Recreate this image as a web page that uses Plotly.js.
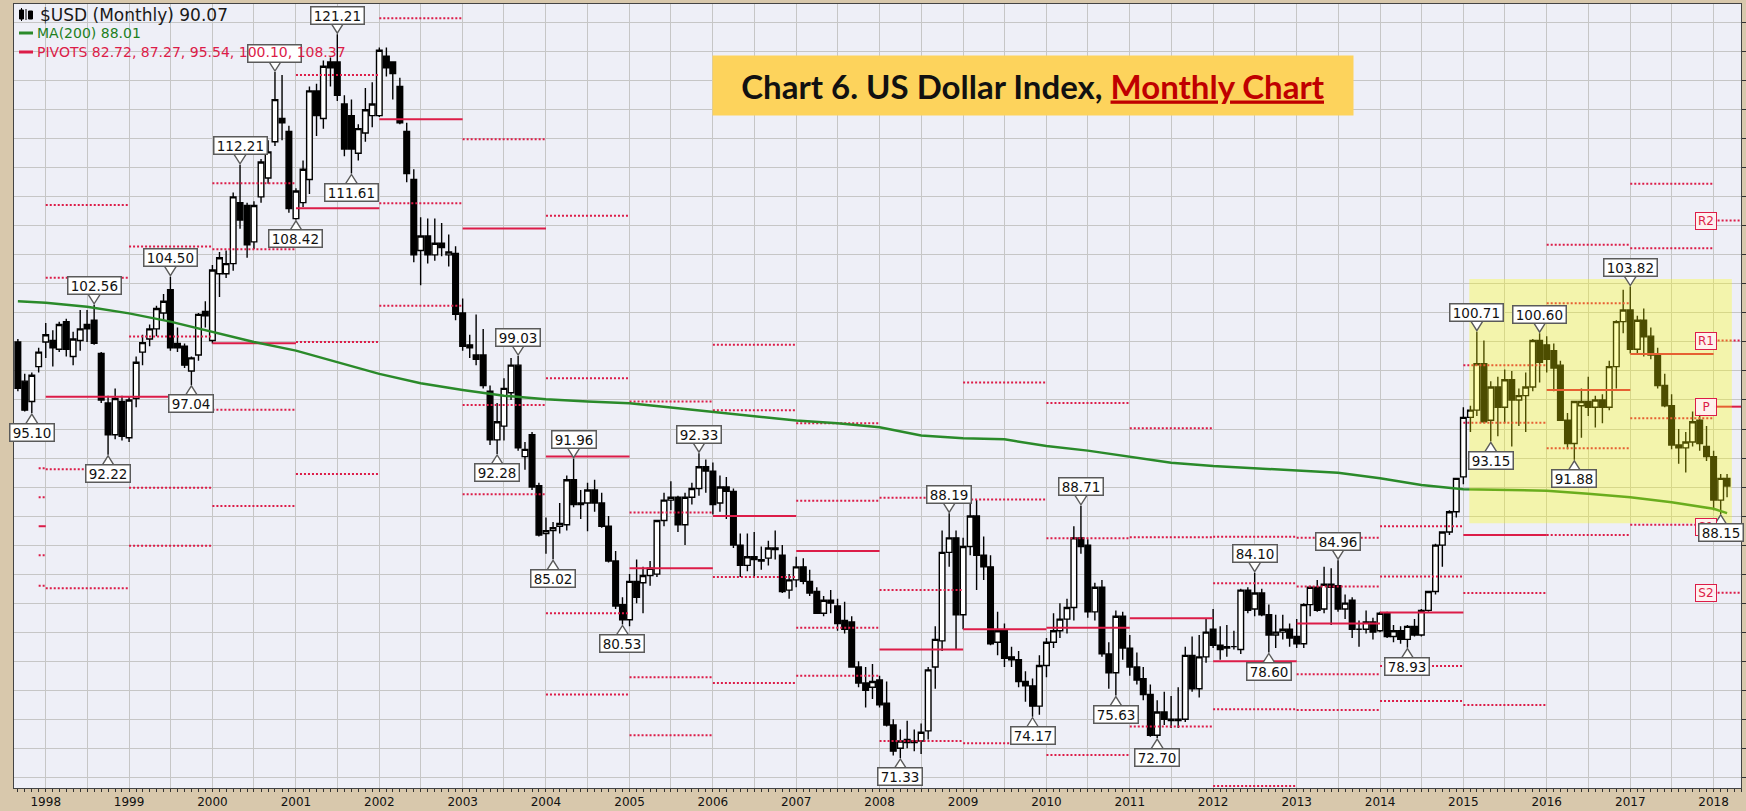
<!DOCTYPE html>
<html><head><meta charset="utf-8">
<script src="https://cdn.plot.ly/plotly-3.0.1.min.js"></script>
<style>html,body{margin:0;padding:0;background:#D8C8AC;}#chart{width:1746px;height:811px;}</style>
</head><body><div id="chart"></div>
<script>
// ---------------- DATA ----------------
const months = [
'1997-09','1997-10','1997-11','1997-12',
'1998-01','1998-02','1998-03','1998-04','1998-05','1998-06','1998-07','1998-08','1998-09','1998-10','1998-11','1998-12',
'1999-01','1999-02','1999-03','1999-04','1999-05','1999-06','1999-07','1999-08','1999-09','1999-10','1999-11','1999-12',
'2000-01','2000-02','2000-03','2000-04','2000-05','2000-06','2000-07','2000-08','2000-09','2000-10','2000-11','2000-12',
'2001-01','2001-02','2001-03','2001-04','2001-05','2001-06','2001-07','2001-08','2001-09','2001-10','2001-11','2001-12',
'2002-01','2002-02','2002-03','2002-04','2002-05','2002-06','2002-07','2002-08','2002-09','2002-10','2002-11','2002-12',
'2003-01','2003-02','2003-03','2003-04','2003-05','2003-06','2003-07','2003-08','2003-09','2003-10','2003-11','2003-12',
'2004-01','2004-02','2004-03','2004-04','2004-05','2004-06','2004-07','2004-08','2004-09','2004-10','2004-11','2004-12',
'2005-01','2005-02','2005-03','2005-04','2005-05','2005-06','2005-07','2005-08','2005-09','2005-10','2005-11','2005-12',
'2006-01','2006-02','2006-03','2006-04','2006-05','2006-06','2006-07','2006-08','2006-09','2006-10','2006-11','2006-12',
'2007-01','2007-02','2007-03','2007-04','2007-05','2007-06','2007-07','2007-08','2007-09','2007-10','2007-11','2007-12',
'2008-01','2008-02','2008-03','2008-04','2008-05','2008-06','2008-07','2008-08','2008-09','2008-10','2008-11','2008-12',
'2009-01','2009-02','2009-03','2009-04','2009-05','2009-06','2009-07','2009-08','2009-09','2009-10','2009-11','2009-12',
'2010-01','2010-02','2010-03','2010-04','2010-05','2010-06','2010-07','2010-08','2010-09','2010-10','2010-11','2010-12',
'2011-01','2011-02','2011-03','2011-04','2011-05','2011-06','2011-07','2011-08','2011-09','2011-10','2011-11','2011-12',
'2012-01','2012-02','2012-03','2012-04','2012-05','2012-06','2012-07','2012-08','2012-09','2012-10','2012-11','2012-12',
'2013-01','2013-02','2013-03','2013-04','2013-05','2013-06','2013-07','2013-08','2013-09','2013-10','2013-11','2013-12',
'2014-01','2014-02','2014-03','2014-04','2014-05','2014-06','2014-07','2014-08','2014-09','2014-10','2014-11','2014-12',
'2015-01','2015-02','2015-03','2015-04','2015-05','2015-06','2015-07','2015-08','2015-09','2015-10','2015-11','2015-12',
'2016-01','2016-02','2016-03','2016-04','2016-05','2016-06','2016-07','2016-08','2016-09','2016-10','2016-11','2016-12',
'2017-01','2017-02','2017-03','2017-04','2017-05','2017-06','2017-07','2017-08','2017-09','2017-10','2017-11','2017-12',
'2018-01','2018-02','2018-03'];

const open = [
100.0,97.3,95.9,98.3,
100.0,100.1,99.5,101.4,99.0,100.1,101.2,101.5,99.2,95.8,93.6,95.9,
93.4,96.1,99.3,100.2,100.9,102.0,103.6,99.9,99.7,98.0,99.1,102.1,
100.1,104.7,104.7,105.4,109.6,109.4,106.9,110.0,111.3,113.8,115.4,114.5,
108.5,109.6,111.2,117.3,115.4,119.3,119.3,116.4,115.6,113.0,114.4,115.6,
115.6,119.7,119.3,117.6,114.5,111.2,106.3,107.3,106.0,106.8,106.0,106.1,
102.0,99.8,99.1,99.1,96.6,93.25,94.2,96.5,98.4,92.1,93.6,90.1,
86.8,87.0,87.3,87.4,90.5,88.8,88.9,89.8,88.9,87.3,84.9,81.9,
80.85,83.5,83.4,83.9,84.0,87.7,89.1,89.3,87.4,89.3,89.9,91.4,
91.1,88.9,90.0,89.7,86.0,84.6,85.2,85.0,85.1,85.8,85.3,82.9,
83.6,84.5,83.5,82.8,81.3,82.2,81.8,80.8,80.7,77.6,76.5,76.2,
76.7,75.1,73.6,72.0,72.6,72.4,72.5,73.2,77.6,79.4,85.5,86.5,
81.2,85.9,88.0,85.3,84.5,79.3,80.1,78.3,78.1,76.6,76.3,74.9,
77.7,79.3,80.1,80.9,81.7,86.5,86.0,81.4,83.1,78.5,77.2,81.1,
78.9,77.6,76.8,75.7,72.9,74.5,74.0,74.0,74.0,78.4,76.1,78.3,
80.2,79.1,78.9,79.0,78.8,82.9,81.6,82.7,81.2,79.8,80.0,80.2,
79.7,79.2,81.9,83.1,81.6,83.3,83.2,81.6,82.2,80.2,80.2,80.7,
80.1,81.3,79.7,80.1,79.5,80.4,79.8,81.5,82.8,86.0,86.9,88.3,
90.7,94.8,95.3,98.5,94.6,96.9,95.5,97.4,96.0,96.3,96.9,100.1,
99.8,99.4,98.4,94.6,93.0,95.6,95.9,95.5,96.0,95.5,98.3,101.4,
102.2,99.5,101.5,100.4,99.1,97.0,95.6,92.9,92.7,93.1,94.6,92.8,
92.1,89.1,90.6];

const high = [
100.2,97.8,97.9,99.6,
101.3,100.8,101.4,101.6,100.7,102.2,102.2,102.56,99.3,96.3,96.8,96.3,
96.2,99.0,100.5,101.2,102.5,103.3,104.50,101.0,99.9,99.0,102.0,102.8,
105.3,106.2,106.3,110.3,112.21,109.6,109.7,112.6,113.9,118.6,118.4,114.9,
110.6,112.5,117.6,117.8,119.4,119.6,121.21,117.0,116.7,115.0,117.5,117.9,
120.3,120.3,119.3,118.2,115.1,111.9,108.6,108.5,108.5,108.2,107.4,106.6,
103.0,100.5,101.9,100.9,97.0,95.8,97.5,98.9,99.03,93.1,93.8,90.3,
87.9,87.6,88.9,90.8,91.96,89.8,90.3,90.5,89.6,88.0,85.6,82.4,
84.0,85.0,84.5,84.9,87.7,89.6,90.4,89.4,89.6,90.3,92.33,91.9,
91.7,90.8,90.7,89.9,86.8,86.8,86.9,85.9,86.3,87.0,86.0,84.0,
85.2,85.1,84.3,83.1,82.5,82.9,82.3,82.1,81.1,78.0,77.6,77.8,
77.0,76.6,74.0,73.3,73.9,73.3,73.7,77.6,80.4,87.0,88.19,87.0,
86.5,89.0,89.1,86.6,85.3,81.4,80.6,79.0,78.7,77.3,76.8,78.4,
79.6,81.3,82.0,82.3,87.3,88.71,86.4,83.4,83.6,79.3,81.5,81.4,
79.8,78.6,77.6,76.4,75.3,75.9,75.6,76.2,79.0,79.7,79.8,80.9,
81.6,80.4,80.5,80.1,83.0,83.1,84.10,83.0,81.9,81.2,81.2,80.6,
80.9,82.0,83.2,83.6,84.5,84.4,84.96,82.6,82.4,80.8,81.5,81.0,
81.4,81.4,80.5,80.4,80.5,80.9,81.6,82.8,86.1,86.9,88.4,90.6,
95.5,95.6,100.71,100.1,97.3,97.6,98.1,98.0,96.8,97.9,100.2,100.60,
100.4,99.9,98.7,95.1,95.9,96.8,97.6,96.3,96.4,98.7,101.5,103.6,
103.82,101.8,102.3,101.0,99.6,97.8,96.4,94.0,93.8,95.2,95.1,94.2,
92.5,90.9,90.9];

const low = [
96.6,95.2,95.10,97.9,
98.9,98.3,99.3,99.0,98.4,99.4,100.0,99.8,95.8,92.22,93.3,93.2,
93.1,95.5,98.4,99.7,100.4,101.5,99.4,99.3,98.2,97.04,98.7,101.0,
99.9,103.1,104.4,104.9,107.8,105.8,106.4,109.6,110.9,113.5,113.9,108.9,
108.42,109.3,110.2,114.2,114.7,117.6,116.6,112.8,111.61,112.5,113.8,114.8,
115.5,118.3,116.7,115.0,111.0,105.5,103.9,105.4,105.6,105.9,105.2,101.5,
99.4,98.9,98.4,96.8,92.9,92.28,93.2,96.0,92.5,91.2,89.8,86.6,
85.4,85.02,86.8,87.0,88.6,87.8,86.95,88.3,87.2,84.8,81.6,80.53,
80.4,82.0,81.3,83.2,83.8,87.3,88.4,86.9,86.0,88.8,89.4,89.6,
88.1,88.3,87.8,85.8,83.8,84.2,83.8,84.3,84.6,85.0,82.7,82.3,
83.1,83.3,82.5,81.3,81.1,81.3,80.1,79.9,77.6,76.2,74.8,75.4,
74.8,73.5,71.5,71.33,72.0,71.8,71.6,72.6,76.1,78.7,84.5,78.8,
80.2,85.3,82.9,83.6,79.1,78.4,77.6,77.6,76.2,75.2,74.17,74.3,
76.9,78.9,79.6,79.9,80.8,85.4,81.0,80.8,78.3,76.1,75.63,78.1,
77.0,76.4,75.3,72.8,72.70,73.6,73.4,73.4,73.8,75.9,75.5,77.9,
78.9,78.1,78.3,78.8,78.5,81.3,81.1,81.1,78.60,78.9,79.5,79.0,
78.9,78.9,81.1,81.4,81.3,80.5,81.4,80.9,79.6,79.0,79.9,79.5,
80.0,79.6,79.3,79.2,78.93,79.7,79.7,81.4,82.6,84.5,86.7,87.9,
90.2,93.8,94.9,94.4,93.15,93.5,94.4,92.8,94.2,93.8,96.6,97.2,
97.9,96.6,94.6,92.6,91.88,93.4,94.9,94.1,94.4,95.3,96.8,100.6,
99.2,99.2,99.0,98.8,96.8,95.5,92.6,91.6,91.01,92.8,92.5,91.8,
88.4,88.15,89.3];

const close = [
96.8,95.3,97.7,99.3,
100.5,99.6,101.2,99.5,100.2,100.9,100.9,99.9,96.0,93.6,96.1,93.5,
96.0,98.6,99.95,100.9,102.3,102.8,99.6,99.6,98.4,98.9,101.9,101.8,
104.96,105.8,105.4,110.0,108.4,106.7,109.4,112.4,113.1,116.7,115.1,109.2,
110.4,111.9,117.3,115.6,119.0,118.9,117.0,113.3,113.3,114.7,116.0,116.4,
120.1,118.9,118.5,115.1,111.6,106.0,107.3,106.0,106.8,106.5,106.2,101.9,
99.7,99.6,98.8,97.0,93.25,94.5,96.8,98.4,92.7,92.6,90.0,86.7,
87.0,87.2,87.5,90.5,88.8,88.9,89.8,88.9,87.3,84.9,81.8,80.85,
83.5,82.4,83.9,84.4,87.7,89.1,89.3,87.4,89.3,89.9,91.4,91.1,
88.8,90.0,89.7,86.0,84.6,85.2,85.0,84.9,85.8,85.7,82.8,83.6,
84.5,83.5,82.7,81.3,82.2,82.0,80.6,80.2,77.6,76.5,76.0,76.6,
75.0,73.6,71.8,72.5,72.4,72.5,73.1,77.4,79.5,85.5,86.5,81.2,
85.9,88.0,85.3,84.5,79.2,80.1,78.2,78.1,76.6,76.3,74.9,77.7,
79.3,80.1,80.9,81.7,86.5,85.9,81.4,83.1,78.5,77.2,81.1,78.9,
77.6,76.7,75.7,72.9,74.5,74.0,73.9,73.9,78.4,76.1,78.3,80.0,
79.1,78.8,79.0,79.0,82.9,81.5,82.7,81.2,79.8,80.0,80.2,79.6,
79.2,81.9,83.1,81.5,83.3,83.1,81.6,82.0,80.2,80.2,80.7,80.0,
81.3,79.7,80.1,79.5,80.4,79.8,81.5,82.8,86.0,86.9,88.3,90.6,
94.8,95.3,98.5,94.5,96.9,95.5,97.4,96.0,96.3,96.9,100.1,98.6,
98.8,98.2,94.6,93.0,95.9,95.9,95.5,96.0,95.5,98.3,101.4,102.2,
99.5,101.5,100.35,99.1,97.0,95.6,92.9,92.7,93.1,94.5,93.0,92.1,
89.1,90.6,90.07];

// 200-month moving average, read at half-year points
const maDates = ['1997-09','1998-01','1998-07','1999-01','1999-07','2000-01','2000-07','2001-01','2001-07',
'2002-01','2002-07','2003-01','2003-07','2004-01','2004-07','2005-01','2005-07','2006-01','2006-07',
'2007-01','2007-07','2008-01','2008-07','2009-01','2009-07','2010-01','2010-07','2011-01','2011-07',
'2012-01','2012-07','2013-01','2013-07','2014-01','2014-07','2015-01','2015-07','2016-01','2016-07',
'2017-01','2017-07','2018-01','2018-03'];
const maValues = [102.8,102.7,102.43,101.97,101.4,100.7,100.0,99.4,98.6,
97.8,97.15,96.69,96.3,96.05,95.89,95.77,95.49,95.2,94.9,
94.58,94.39,94.12,93.55,93.36,93.29,92.83,92.51,92.09,91.68,
91.45,91.29,91.1,90.99,90.6,90.14,89.85,89.8,89.75,89.53,
89.3,88.95,88.5,88.2];
const maLegendValue = 88.01;

// yearly pivot levels
const pivotYears = [1997,1998,1999,2000,2001,2002,2003,2004,2005,2006,2007,2008,2009,2010,2011,2012,2013,2014,2015,2016,2017,2018];
const pivotR2 = [91.3,109.44,106.57,110.93,null,null,null,108.7,95.9,99.8,94.4,89.27,97.2,95.8,94.05,86.58,86.5,87.3,98.4,106.7,110.9,108.37];
const pivotR1 = [89.3,104.43,100.37,106.39,118.4,122.3,113.97,97.5,88.24,95.3,89.06,82.9,89.15,86.47,86.54,83.37,83.14,83.83,94.44,102.67,106.46,100.10];
const pivotP  = [87.3,96.23,96.23,99.91,109.21,115.35,107.81,92.1,84.4,88.0,85.6,78.8,80.2,80.3,80.95,78.0,80.6,81.35,86.7,96.69,99.17,95.54];
const pivotS1 = [85.3,91.22,89.96,95.32,100.0,109.56,95.66,81.3,76.9,83.8,80.3,72.5,72.34,71.54,73.49,74.68,77.1,77.67,82.7,92.67,94.74,87.27];
const pivotS2 = [83.2,83.02,85.96,88.7,90.9,102.5,89.5,75.7,72.9,76.5,77.0,null,null,null,null,69.4,74.64,75.26,74.98,86.7,87.4,82.72];

// price annotations
const labelDates = ['1997-11','1998-08','1998-10','1999-07','1999-10','2000-05','2001-07','2001-01','2001-09',
'2003-09','2003-06','2004-05','2004-02','2004-12','2005-11','2008-04','2008-11','2009-11','2010-06','2010-11',
'2011-05','2012-07','2012-09','2013-07','2014-05','2015-03','2015-05','2015-12','2016-05','2017-01','2018-02'];
const labelValues = [95.10,102.56,92.22,104.50,97.04,112.21,121.21,108.42,111.61,
99.03,92.28,91.96,85.02,80.53,92.33,71.33,88.19,74.17,88.71,75.63,
72.70,84.10,78.60,84.96,78.93,100.71,93.15,100.60,91.88,103.82,88.15];
const labelKinds = ['L','H','L','H','L','H','H','L','L',
'H','L','H','L','L','H','L','H','L','H','L',
'L','H','L','H','L','H','L','H','L','H','L'];
// annotation whose text is hidden behind the legend
const coveredLabelDate = '2000-10', coveredLabelValue = 118.6;

const yearLabels = ['1998','1999','2000','2001','2002','2003','2004','2005','2006','2007','2008',
'2009','2010','2011','2012','2013','2014','2015','2016','2017','2018'];

// ---------------- STYLE / LAYOUT ----------------
const X_RANGE = ['1997-08-15','2018-05-01'];
const Y_RANGE = [69.26, 123.29];
const RED = '#DC1C48', GREEN = '#2A8A2A', BUBBLE = '#5A5A5A';
const W = 1746, H = 811, ML = 14, MR = 5, MT = 4, MB = 23;
const PW = W - ML - MR, PH = H - MT - MB;
const px2x = p => (p - ML) / PW, px2y = p => (H - MB - p) / PH;

const traces = [];
traces.push({
  type: 'candlestick', x: months, open: open, high: high, low: low, close: close,
  increasing: {line: {color: '#000', width: 1.4}, fillcolor: '#FFFFFF'},
  decreasing: {line: {color: '#000', width: 1.4}, fillcolor: '#000000'},
  whiskerwidth: 0, hoverinfo: 'skip', showlegend: false
});

function pivotTrace(levels, dash, width) {
  const xs = [], ys = [];
  pivotYears.forEach((yr, i) => {
    if (levels[i] === null) return;
    const start = i === 0 ? '1997-12' : yr + '-01';
    const end = i === pivotYears.length - 1 ? X_RANGE[1] : (yr + 1) + '-01';
    xs.push(start, end, null); ys.push(levels[i], levels[i], null);
  });
  return {type: 'scatter', mode: 'lines', x: xs, y: ys, connectgaps: false,
    line: {color: RED, width: width, dash: dash}, hoverinfo: 'skip', showlegend: false};
}
traces.push(pivotTrace(pivotR2, '2px,2px', 2));
traces.push(pivotTrace(pivotR1, '2px,2px', 2));
traces.push(pivotTrace(pivotS1, '2px,2px', 2));
traces.push(pivotTrace(pivotS2, '2px,2px', 2));
traces.push(pivotTrace(pivotP, 'solid', 2));

traces.push({type: 'scatter', mode: 'lines', x: maDates, y: maValues,
  line: {color: GREEN, width: 2.5}, hoverinfo: 'skip', showlegend: false});

const shapes = [];
const annotations = [];
// highlighted region
shapes.push({type: 'rect', xref: 'x', yref: 'y', x0: '2015-01-27', x1: '2018-03-22', y0: 87.5, y1: 104.33,
  fillcolor: 'rgba(255,255,0,0.30)', line: {width: 0}, layer: 'above'});

// 2018 pivot tags (drawn before price labels so labels cover them)
const lastIdx = pivotYears.length - 1;
[['R2', pivotR2], ['R1', pivotR1], ['P', pivotP], ['S1', pivotS1], ['S2', pivotS2]].forEach(([name, arr]) => {
  annotations.push({x: pivotYears[lastIdx] + '-01', y: arr[lastIdx], xref: 'x', yref: 'y', text: name,
    showarrow: false, xanchor: 'right', yanchor: 'middle', xshift: 3, width: 18, height: 14, borderpad: 1,
    bgcolor: 'rgba(255,240,240,0.95)', bordercolor: RED, borderwidth: 1,
    font: {family: 'DejaVu Sans', size: 12, color: RED}});
});

// price label: V pointer (shape) + boxed text (annotation)
function pointer(date, value, kind) {
  const s = kind === 'H' ? 1 : -1;
  return {type: 'path', xref: 'x', yref: 'y', xsizemode: 'pixel', ysizemode: 'pixel',
    xanchor: date, yanchor: value, path: `M-6,${s*10.5} L0,${s*1} L6,${s*10.5}`,
    fillcolor: '#FFFFFF', line: {color: BUBBLE, width: 1.4}, layer: 'above'};
}
function labelBox(date, value, kind, txt) {
  return {x: date, y: value, xref: 'x', yref: 'y', text: txt, showarrow: false,
    yshift: kind === 'H' ? 19 : -19, xanchor: 'center', yanchor: 'middle',
    width: txt.length * 8.8 - 3, height: 14, borderpad: 1, bgcolor: '#FFFFFF',
    bordercolor: BUBBLE, borderwidth: 1.5,
    font: {family: 'DejaVu Sans', size: 13.5, color: '#111'}};
}
shapes.push(pointer(coveredLabelDate, coveredLabelValue, 'H'));
annotations.push(labelBox(coveredLabelDate, coveredLabelValue, 'H', ''));
annotations[annotations.length - 1].width = 50;
labelDates.forEach((d, i) => {
  const txt = labelValues[i].toFixed(2);
  shapes.push(pointer(d, labelValues[i], labelKinds[i]));
  annotations.push(labelBox(d, labelValues[i], labelKinds[i], txt));
});

// legend (top-left)
const lastClose = close[close.length - 1];
const pivLegend = [pivotS2, pivotS1, pivotP, pivotR1, pivotR2].map(a => a[lastIdx].toFixed(2)).join(', ');
annotations.push({xref: 'paper', yref: 'paper', x: px2x(38), y: px2y(15), xanchor: 'left', yanchor: 'middle',
  text: '$USD (Monthly) ' + lastClose.toFixed(2), showarrow: false,
  font: {family: 'DejaVu Sans', size: 17, color: '#1A1A1A'}});
annotations.push({xref: 'paper', yref: 'paper', x: px2x(35), y: px2y(33), xanchor: 'left', yanchor: 'middle',
  text: 'MA(200) ' + maLegendValue.toFixed(2), showarrow: false,
  font: {family: 'DejaVu Sans', size: 14, color: '#1E7F1E'}});
annotations.push({xref: 'paper', yref: 'paper', x: px2x(35), y: px2y(52), xanchor: 'left', yanchor: 'middle',
  text: 'PIVOTS ' + pivLegend, showarrow: false,
  font: {family: 'DejaVu Sans', size: 14, color: RED}});
shapes.push({type: 'line', xref: 'paper', yref: 'paper', x0: px2x(19), x1: px2x(33), y0: px2y(33), y1: px2y(33),
  line: {color: GREEN, width: 3}, layer: 'above'});
shapes.push({type: 'line', xref: 'paper', yref: 'paper', x0: px2x(19), x1: px2x(33), y0: px2y(52), y1: px2y(52),
  line: {color: RED, width: 3}, layer: 'above'});
// candle icon
shapes.push({type: 'line', xref: 'paper', yref: 'paper', x0: px2x(21.5), x1: px2x(21.5), y0: px2y(8), y1: px2y(21), line: {color: '#000', width: 1}, layer: 'above'});
shapes.push({type: 'rect', xref: 'paper', yref: 'paper', x0: px2x(19.5), x1: px2x(23.5), y0: px2y(10), y1: px2y(19), fillcolor: '#000', line: {color: '#000', width: 1}, layer: 'above'});
shapes.push({type: 'line', xref: 'paper', yref: 'paper', x0: px2x(26), x1: px2x(26), y0: px2y(9), y1: px2y(20), line: {color: '#000', width: 1}, layer: 'above'});
shapes.push({type: 'rect', xref: 'paper', yref: 'paper', x0: px2x(28.5), x1: px2x(32.5), y0: px2y(11), y1: px2y(19), fillcolor: '#000', line: {color: '#000', width: 1}, layer: 'above'});

// title box
annotations.push({xref: 'paper', yref: 'paper', x: px2x(1033), y: px2y(85.5), xanchor: 'center', yanchor: 'middle',
  text: '<b>Chart 6. US Dollar Index, <span style="color:#C00000"><u>Monthly Chart</u></span></b>',
  showarrow: false, width: 636, height: 55, borderpad: 2, bgcolor: '#FDD35C',
  font: {family: 'Lato', size: 33, color: '#111'}});

// x ticks: yearly labels, 6-month grid
const tickvals = [], ticktext = [];
yearLabels.forEach(y => { tickvals.push(y + '-01-01', y + '-07-01'); ticktext.push(y, ''); });

const layout = {
  width: W, height: H,
  margin: {l: ML, r: MR, t: MT, b: MB, pad: 0},
  paper_bgcolor: '#D8C8AC', plot_bgcolor: '#EEEFF7',
  showlegend: false, hovermode: false, dragmode: false,
  boxgap: 0.12, boxgroupgap: 0,
  xaxis: {type: 'date', range: X_RANGE, tickvals: tickvals, ticktext: ticktext,
    showgrid: true, gridcolor: '#C6C6C6', gridwidth: 1,
    ticks: 'outside', ticklen: 3, tickcolor: '#333', tickwidth: 1,
    minor: {dtick: 'M1', tick0: '1998-01-01', ticks: 'outside', ticklen: 3, tickcolor: '#333', showgrid: false},
    showline: true, mirror: true, linecolor: '#444', linewidth: 1,
    tickfont: {family: 'DejaVu Sans', size: 12, color: '#111'},
    rangeslider: {visible: false}, zeroline: false, fixedrange: true},
  yaxis: {range: Y_RANGE, dtick: 2, tick0: 0, side: 'right', showgrid: true, gridcolor: '#C6C6C6', gridwidth: 1,
    ticks: 'outside', ticklen: 4, tickcolor: '#333', showticklabels: false,
    showline: true, mirror: true, linecolor: '#444', linewidth: 1, zeroline: false, fixedrange: true},
  shapes: shapes, annotations: annotations
};

Plotly.newPlot('chart', traces, layout, {staticPlot: true, displayModeBar: false});
</script>
</body></html>
